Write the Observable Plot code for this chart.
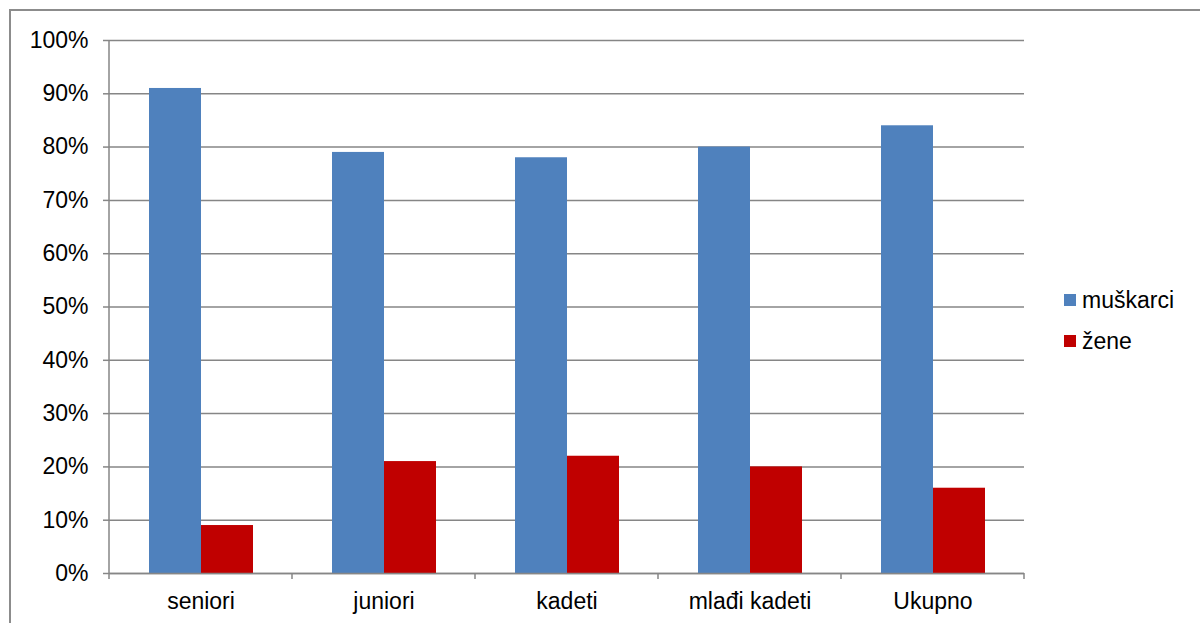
<!DOCTYPE html>
<html>
<head>
<meta charset="utf-8">
<script src="https://cdn.jsdelivr.net/npm/d3@7"></script>
<script src="https://cdn.jsdelivr.net/npm/@observablehq/plot@0.6"></script>
<style>
  html, body { margin: 0; padding: 0; background: #fff; }
  #wrap { position: relative; width: 1200px; height: 623px; overflow: hidden; font-family: "Liberation Sans", Arial, sans-serif; }
  #border { position: absolute; left: 9px; top: 9px; width: 1300px; height: 700px; border: 2px solid #8c8c8c; box-sizing: border-box; }
  #chart { position: absolute; left: 0; top: 0; }
  .legend { position: absolute; left: 1064px; font-size: 23px; color: #000; }
  .legend div { display: flex; align-items: center; height: 26px; }
  .legend span.sw { display: inline-block; width: 12px; height: 12px; margin-right: 6px; }
</style>
</head>
<body>
<div id="wrap">
  <div id="border"></div>
  <div id="chart"></div>
  <div class="legend" id="legend" style="top:287px"></div>
</div>
<script>
const categories = ["seniori", "juniori", "kadeti", "mlađi kadeti", "Ukupno"];
const series = ["muškarci", "žene"];
const muskarci = [91, 79, 78, 80, 84];
const zene = [9, 21, 22, 20, 16];
const yTicks = [0, 10, 20, 30, 40, 50, 60, 70, 80, 90, 100];
const colors = ["#4F81BD", "#C00000"];

const data = categories.flatMap((c, i) => [
  {cat: c, series: series[0], value: muskarci[i]},
  {cat: c, series: series[1], value: zene[i]}
]);

const gridColor = "#868686";

const chart = Plot.plot({
  width: 1200,
  height: 623,
  marginLeft: 108,
  marginRight: 175,
  marginTop: 40,
  marginBottom: 50,
  style: {fontFamily: "'Liberation Sans', Arial, sans-serif", fontSize: "23px", color: "#000", background: "transparent"},
  fx: {domain: categories, padding: 0, label: null, axis: "bottom", tickSize: 0, tickPadding: 19},
  x: {domain: series, paddingInner: 0, paddingOuter: 0.75, axis: null},
  y: {domain: [0, 100], ticks: yTicks, tickFormat: d => d + "%", label: null, tickSize: 6, tickPadding: 15},
  color: {domain: series, range: colors},
  marks: [
    Plot.ruleY(yTicks, {y: d => d, stroke: gridColor, strokeWidth: 1.5}),
    Plot.barY(data, {fx: "cat", x: "series", y: "value", fill: "series"}),
    Plot.ruleY([0], {stroke: gridColor, strokeWidth: 1.5})
  ]
});

document.getElementById("chart").appendChild(chart);

const svg = d3.select(chart);
svg.selectAll('[aria-label="y-axis tick"] path, [aria-label="y-axis tick"]').attr("stroke", gridColor).attr("stroke-width", 1.5);
svg.selectAll("text").attr("fill", "#000");

// axis lines and category boundary ticks using the plot's own scales
const fx = chart.scale("fx");
const y = chart.scale("y");
const y0 = y.apply(0), y1 = y.apply(100);
const xs = categories.map(c => fx.apply(c));
const step = fx.step !== undefined ? fx.step : fx.bandwidth;
xs.push(xs[xs.length - 1] + step);
const g = svg.append("g").attr("stroke", gridColor).attr("stroke-width", 1.5);
g.append("line").attr("x1", xs[0]).attr("x2", xs[0]).attr("y1", y1).attr("y2", y0);
xs.forEach(x => g.append("line").attr("x1", x).attr("x2", x).attr("y1", y0).attr("y2", y0 + 6));

// legend
const leg = document.getElementById("legend");
series.forEach((s, i) => {
  const row = document.createElement("div");
  row.style.marginBottom = "15px";
  row.innerHTML = `<span class="sw" style="background:${colors[i]}"></span><span>${s}</span>`;
  leg.appendChild(row);
});
</script>
</body>
</html>
